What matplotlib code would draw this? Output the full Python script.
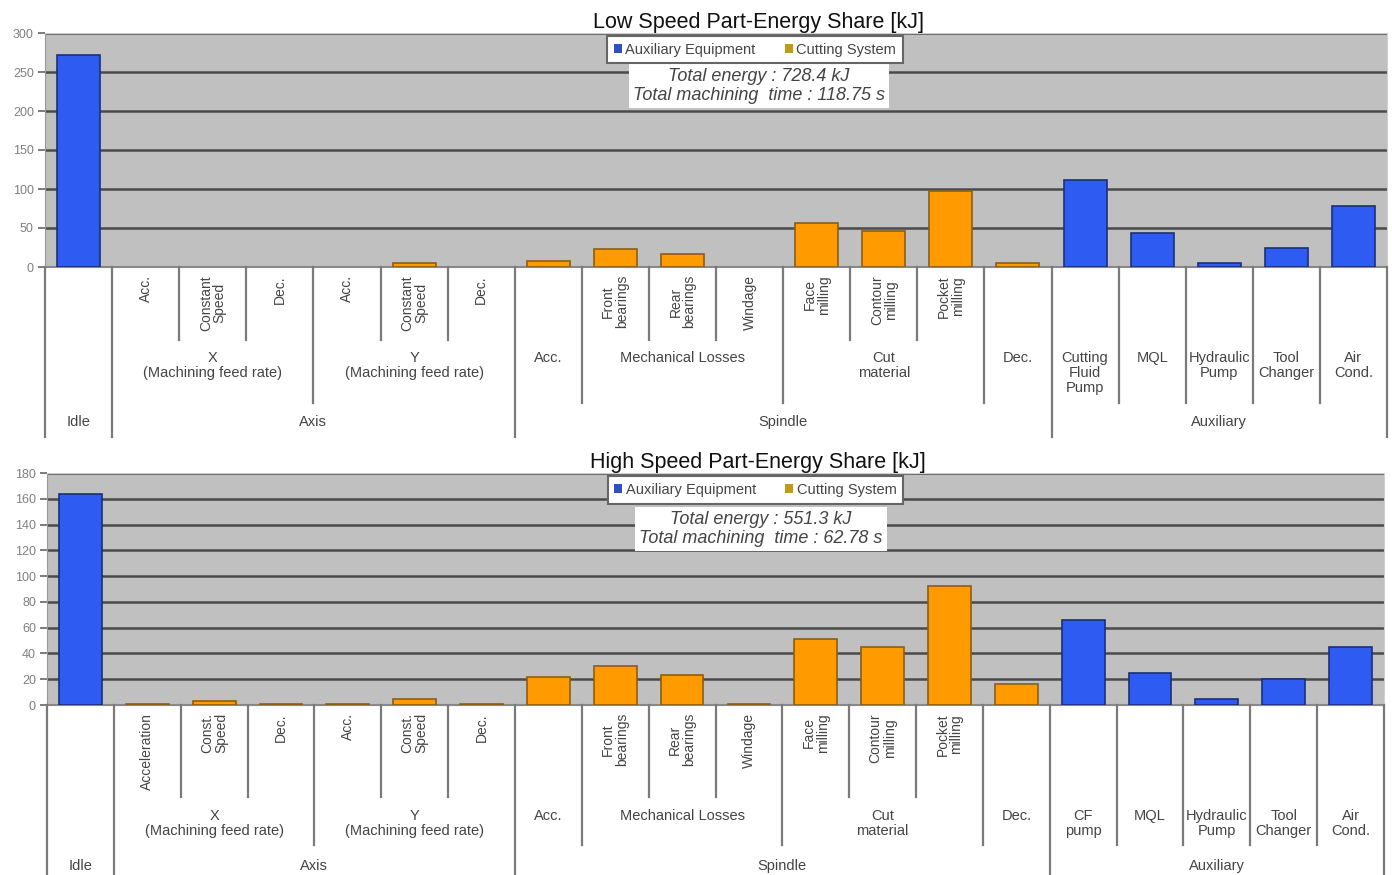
import matplotlib
matplotlib.use("Agg")
from matplotlib import pyplot as plt
from matplotlib.patches import Patch

plt.rcParams['font.family'] = ['Liberation Sans', 'DejaVu Sans']

# categories (one bar each), in the order they appear
n_cat = 20
is_aux = [True] + [False] * 14 + [True] * 5

low_values = [272, 0, 0, 0, 0, 5, 0, 8, 23, 17, 0, 57, 46, 97, 5, 112, 44, 5, 24, 78]
high_values = [164, 0.6, 3, 0.6, 0.6, 5, 0.6, 22, 30, 23, 0.6, 51, 45, 92, 16, 66, 25, 5, 20, 45]

low_sub = ["", "Acc.", "Constant\nSpeed", "Dec.", "Acc.", "Constant\nSpeed", "Dec.", "",
           "Front\nbearings", "Rear\nbearings", "Windage", "Face\nmilling", "Contour\nmilling",
           "Pocket\nmilling", "", "", "", "", "", ""]
high_sub = ["", "Acceleration", "Const.\nSpeed", "Dec.", "Acc.", "Const.\nSpeed", "Dec.", "",
            "Front\nbearings", "Rear\nbearings", "Windage", "Face\nmilling", "Contour\nmilling",
            "Pocket\nmilling", "", "", "", "", "", ""]

low_mid = [("X\n(Machining feed rate)", 1, 4), ("Y\n(Machining feed rate)", 4, 7),
           ("Acc.", 7, 8), ("Mechanical Losses", 8, 11), ("Cut\nmaterial", 11, 14),
           ("Dec.", 14, 15), ("Cutting\nFluid\nPump", 15, 16), ("MQL", 16, 17),
           ("Hydraulic\nPump", 17, 18), ("Tool\nChanger", 18, 19), ("Air\nCond.", 19, 20)]
high_mid = [("X\n(Machining feed rate)", 1, 4), ("Y\n(Machining feed rate)", 4, 7),
            ("Acc.", 7, 8), ("Mechanical Losses", 8, 11), ("Cut\nmaterial", 11, 14),
            ("Dec.", 14, 15), ("CF\npump", 15, 16), ("MQL", 16, 17),
            ("Hydraulic\nPump", 17, 18), ("Tool\nChanger", 18, 19), ("Air\nCond.", 19, 20)]

top_groups = [("Idle", 0, 1), ("Axis", 1, 7), ("Spindle", 7, 15), ("Auxiliary", 15, 20)]

BLUE = '#2e5cf2'
BLUE_EDGE = '#1b2f7a'
ORANGE = '#ff9a00'
ORANGE_EDGE = '#8c5e14'
W, H = 1392, 875


def px_rect(left, top, right, bottom):
    return [left / W, 1 - bottom / H, (right - left) / W, (bottom - top) / H]


def draw_chart(box, values, yticks, title, sub, mid, energy, label_cfg, legend_box, text_xy):
    left, top, right, bottom = box
    ax = plt.gcf().add_axes(px_rect(left, top, right, bottom))
    ax.set_facecolor('#c0c0c0')
    x = list(range(n_cat))
    colors = [BLUE if a else ORANGE for a in is_aux]
    edges = [BLUE_EDGE if a else ORANGE_EDGE for a in is_aux]
    widths = [1.2 if v > 0 else 0 for v in values]
    ax.bar(x, values, width=0.64, color=colors, edgecolor=edges, linewidth=widths, zorder=3)
    ax.set_xlim(-0.5, n_cat - 0.5)
    ax.set_ylim(yticks[0], yticks[-1])
    ax.set_yticks(yticks)
    ax.tick_params(axis='y', labelsize=9, labelcolor='#808080', color='#666666',
                   length=5, width=1.2, pad=3)
    ax.set_xticks([])
    ax.yaxis.grid(True, color='#4a4a4a', linewidth=1.8, zorder=1)
    for s in ['top', 'right']:
        ax.spines[s].set_color('#d0d0d0')
    ax.spines['left'].set_color('#999999')
    ax.spines['bottom'].set_color('#888888')
    ax.spines['bottom'].set_linewidth(1.5)
    ax.set_title(title, fontsize=15.5, pad=1, color='#111111', x=0.532)

    handles = [Patch(facecolor='#3050c0', edgecolor='none', label='Auxiliary Equipment'),
               Patch(facecolor='#c09a20', edgecolor='none', label='Cutting System')]
    lx, ly = legend_box
    leg = ax.legend(handles=handles, loc='upper center', ncol=2, fontsize=10.5,
                    bbox_to_anchor=(lx, ly), frameon=True, fancybox=False,
                    borderaxespad=0,
                    handlelength=0.55, handleheight=0.55, handletextpad=0.25,
                    columnspacing=2.0, borderpad=0.45, labelcolor='#444444')
    leg.get_frame().set_edgecolor('#666666')
    leg.get_frame().set_linewidth(1.5)
    leg.get_frame().set_alpha(1)

    tx, ty = text_xy
    ax.text(tx, ty, "Total energy : %s kJ\nTotal machining  time : %s s" % energy,
            transform=ax.transAxes, ha='center', va='top', fontsize=13,
            style='italic', color='#444444', linespacing=1.15, zorder=5,
            bbox=dict(facecolor='white', edgecolor='none', pad=3))

    # hierarchical category labels below the axis
    sub_text, short_end, mid_text, mid_end, top_text, full_end = label_cfg
    lab = plt.gcf().add_axes(px_rect(left, bottom, right, bottom + full_end))
    lab.set_xlim(-0.5, n_cat - 0.5)
    lab.set_ylim(full_end, 0)
    lab.axis('off')
    top_b = set()
    for _, a, b in top_groups:
        top_b.update([a, b])
    mid_b = set()
    for _, a, b in mid:
        mid_b.update([a, b])
    for k in range(n_cat + 1):
        xb = k - 0.5
        if k in top_b:
            end = full_end
        elif k in mid_b:
            end = mid_end
        else:
            end = short_end
        lab.plot([xb, xb], [0, end], color='#7a7a7a', linewidth=1.6, clip_on=False)
    for i, t in enumerate(sub):
        if t:
            lab.text(i, sub_text, t, rotation=90, ha='center', va='top', fontsize=10,
                     color='#444444', linespacing=1.0)
    for t, a, b in mid:
        lab.text((a + b - 1) / 2, mid_text, t, ha='center', va='top', fontsize=10.5,
                 color='#444444', linespacing=1.1)
    for t, a, b in top_groups:
        lab.text((a + b - 1) / 2, top_text, t, ha='center', va='center', fontsize=10.5,
                 color='#444444')
    return ax


fig = plt.figure(figsize=(W / 100, H / 100), dpi=100)
fig.patch.set_facecolor('white')

draw_chart((45, 33, 1387, 267), low_values, [0, 50, 100, 150, 200, 250, 300],
           "Low Speed Part-Energy Share [kJ]", low_sub, low_mid, ("728.4", "118.75"),
           (8, 73, 84, 136, 155, 170), (0.529, 0.987), (0.532, 0.85))
draw_chart((47, 473, 1384, 705), high_values, [0, 20, 40, 60, 80, 100, 120, 140, 160, 180],
           "High Speed Part-Energy Share [kJ]", high_sub, high_mid, ("551.3", "62.78"),
           (8, 92, 104, 140, 161, 170), (0.53, 0.985), (0.534, 0.835))

fig.savefig('out.png', dpi=100)
